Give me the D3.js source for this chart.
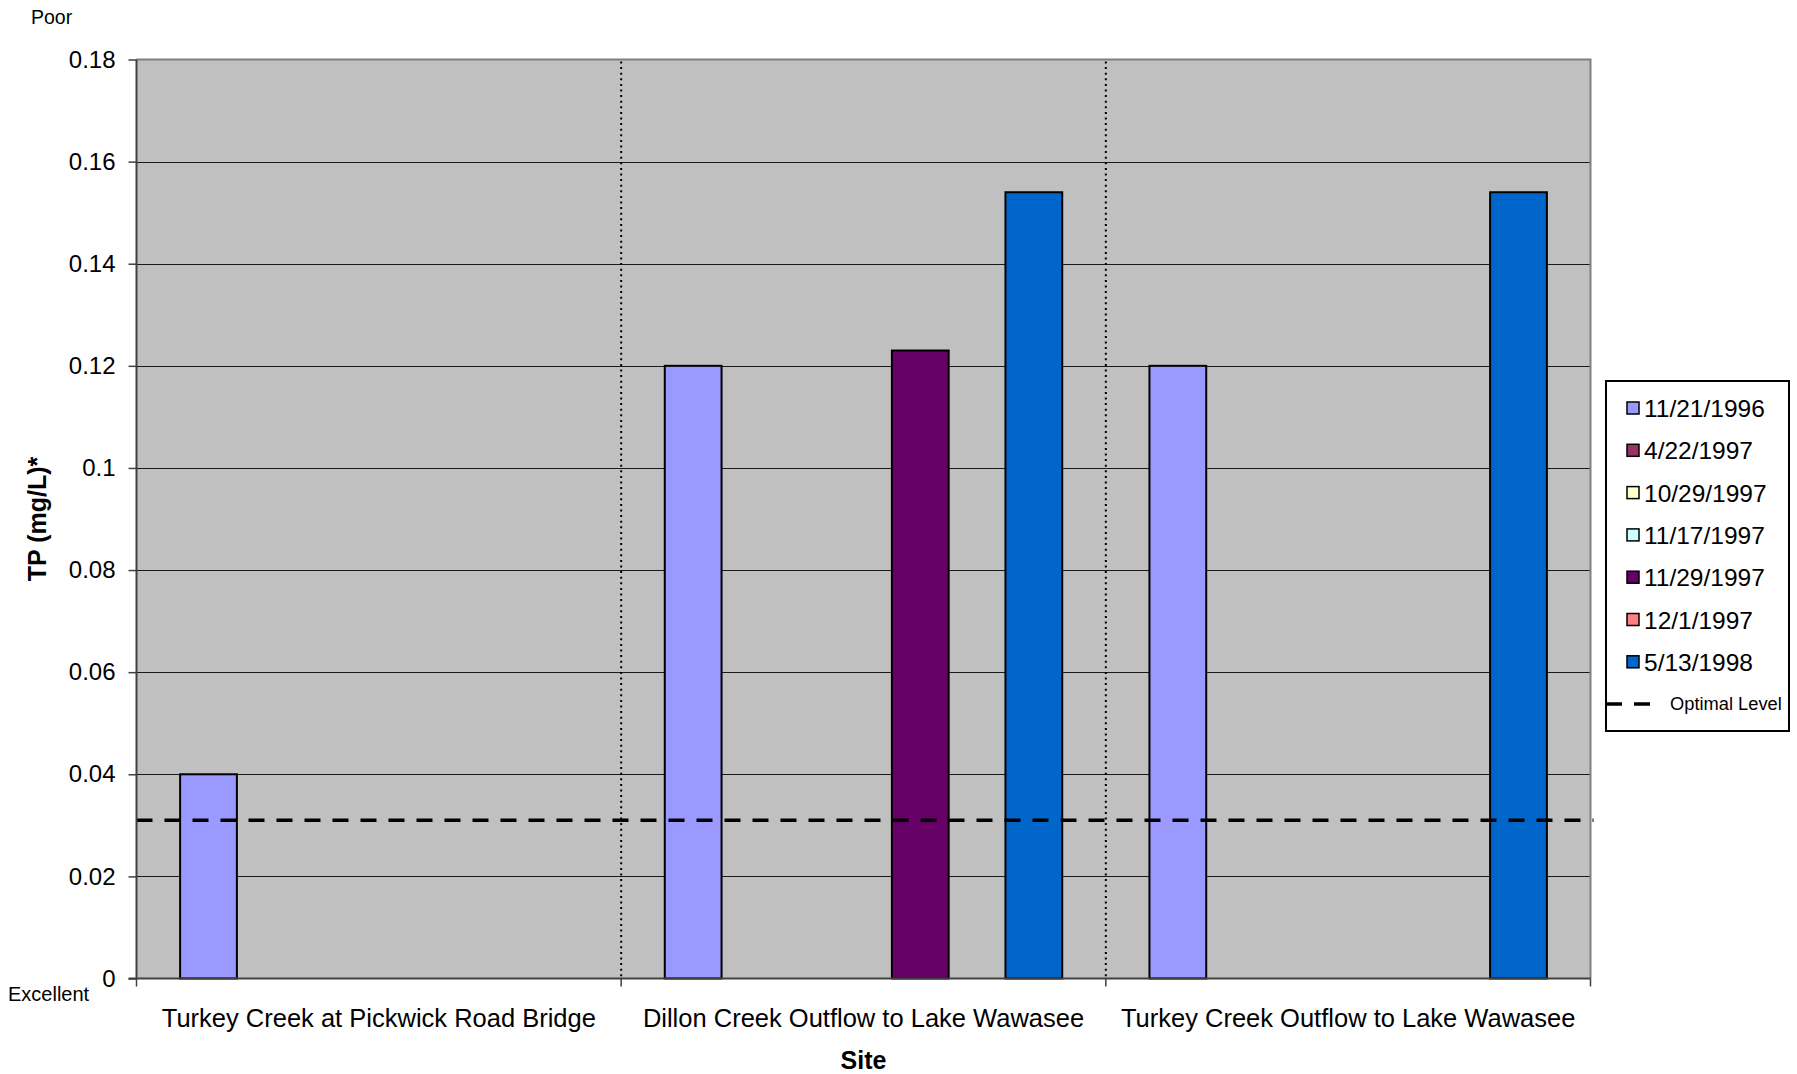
<!DOCTYPE html>
<html>
<head>
<meta charset="utf-8">
<script src="https://cdn.jsdelivr.net/npm/d3@7"></script>
<style>
  html, body { margin: 0; padding: 0; background: #fff; }
  svg { display: block; font-family: "Liberation Sans", Arial, sans-serif; }
</style>
</head>
<body>
<svg id="chart" width="1797" height="1074"></svg>
<script>
// Sampling sites along the x axis
const sites = [
  "Turkey Creek at Pickwick Road Bridge",
  "Dillon Creek Outflow to Lake Wawasee",
  "Turkey Creek Outflow to Lake Wawasee"
];

// Sampling dates (one bar slot per date within each site)
const dates = ["11/21/1996", "4/22/1997", "10/29/1997", "11/17/1997", "11/29/1997", "12/1/1997", "5/13/1998"];
const dateColors = ["#9999FF", "#993366", "#FFFFCC", "#CCFFFF", "#660066", "#FF8080", "#0066CC"];

// Total phosphorus (mg/L) per date, listed by site; null = no sample
const tp_11_21_1996 = [0.04, 0.12, 0.12];
const tp_4_22_1997  = [null, null, null];
const tp_10_29_1997 = [null, null, null];
const tp_11_17_1997 = [null, null, null];
const tp_11_29_1997 = [null, 0.123, null];
const tp_12_1_1997  = [null, null, null];
const tp_5_13_1998  = [null, 0.154, 0.154];
const seriesValues = [tp_11_21_1996, tp_4_22_1997, tp_10_29_1997, tp_11_17_1997, tp_11_29_1997, tp_12_1_1997, tp_5_13_1998];

// Optimal TP level
const optimalLevel = 0.031;

// Y axis ticks
const yTicks = [0, 0.02, 0.04, 0.06, 0.08, 0.1, 0.12, 0.14, 0.16, 0.18];
const yTickLabels = ["0", "0.02", "0.04", "0.06", "0.08", "0.1", "0.12", "0.14", "0.16", "0.18"];

const svg = d3.select("#chart");
const plot = { left: 136.5, right: 1590.5, top: 59.5, bottom: 978.5 };

const x = d3.scaleBand().domain(sites).range([plot.left, plot.right]).paddingInner(0).paddingOuter(0);
const xs = d3.scaleBand().domain(dates).range([0, x.bandwidth()]).paddingInner(0).paddingOuter(0.768);
const y = d3.scaleLinear().domain([0, 0.18]).range([plot.bottom, plot.top]);

// Plot area background
svg.append("rect")
  .attr("x", plot.left).attr("y", plot.top)
  .attr("width", plot.right - plot.left).attr("height", plot.bottom - plot.top)
  .attr("fill", "#C0C0C0");

// Horizontal gridlines
svg.append("g").selectAll("line")
  .data(yTicks.filter(t => t > 0 && t < 0.18))
  .join("line")
  .attr("x1", plot.left).attr("x2", plot.right)
  .attr("y1", d => Math.round(y(d)) + 0.5).attr("y2", d => Math.round(y(d)) + 0.5)
  .attr("stroke", "#1a1a1a").attr("stroke-width", 1);

// Top and right border of the plot area
svg.append("path")
  .attr("d", `M${plot.left},${plot.top} H${plot.right} V${plot.bottom}`)
  .attr("fill", "none").attr("stroke", "#808080").attr("stroke-width", 2);

// Dotted dividers between sites
svg.append("g").selectAll("line")
  .data(sites.slice(1))
  .join("line")
  .attr("x1", d => x(d)).attr("x2", d => x(d))
  .attr("y1", plot.top + 2).attr("y2", plot.bottom)
  .attr("stroke", "#000").attr("stroke-width", 2)
  .attr("stroke-dasharray", "2,3.6");

// Bars
const barData = [];
seriesValues.forEach((vals, si) => {
  vals.forEach((v, ci) => {
    if (v !== null) barData.push({ site: sites[ci], date: dates[si], color: dateColors[si], value: v });
  });
});
svg.append("g").selectAll("rect")
  .data(barData)
  .join("rect")
  .attr("x", d => x(d.site) + xs(d.date))
  .attr("y", d => y(d.value))
  .attr("width", xs.bandwidth())
  .attr("height", d => y(0) - y(d.value))
  .attr("fill", d => d.color)
  .attr("stroke", "#000").attr("stroke-width", 2);

// Optimal level line
svg.append("line")
  .attr("x1", plot.left).attr("x2", plot.right + 3)
  .attr("y1", y(optimalLevel)).attr("y2", y(optimalLevel))
  .attr("stroke", "#000").attr("stroke-width", 3.5)
  .attr("stroke-dasharray", "16,12");

// Y axis
const yAxis = d3.axisLeft(y).tickValues(yTicks).tickSize(8).tickPadding(13)
  .tickFormat((d, i) => yTickLabels[i]);
const gy = svg.append("g").attr("transform", `translate(${plot.left},0)`).call(yAxis);
gy.select(".domain").attr("stroke", "#404040").attr("stroke-width", 2).attr("d", `M0,${plot.top}V${plot.bottom}`);
gy.selectAll(".tick line").attr("stroke", "#404040").attr("stroke-width", 1.5);
gy.selectAll(".tick text").attr("font-size", 24).attr("fill", "#000")
  .attr("font-family", "Liberation Sans, Arial, sans-serif");

// X axis baseline with ticks at site boundaries
const boundaries = sites.map(s => x(s)).concat([plot.right]);
svg.append("line")
  .attr("x1", plot.left - 8).attr("x2", plot.right)
  .attr("y1", plot.bottom).attr("y2", plot.bottom)
  .attr("stroke", "#404040").attr("stroke-width", 2);
svg.append("g").selectAll("line")
  .data(boundaries)
  .join("line")
  .attr("x1", d => d).attr("x2", d => d)
  .attr("y1", plot.bottom).attr("y2", plot.bottom + 8)
  .attr("stroke", "#404040").attr("stroke-width", 1.5);

// Site labels
svg.append("g").selectAll("text")
  .data(sites)
  .join("text")
  .attr("x", d => x(d) + x.bandwidth() / 2)
  .attr("y", 1027)
  .attr("text-anchor", "middle")
  .attr("font-size", 25.5)
  .attr("fill", "#000")
  .text(d => d);

// Axis titles
svg.append("text")
  .attr("x", (plot.left + plot.right) / 2).attr("y", 1069)
  .attr("text-anchor", "middle").attr("font-size", 25).attr("font-weight", "bold")
  .text("Site");

svg.append("text")
  .attr("transform", `translate(46,${(plot.top + plot.bottom) / 2}) rotate(-90)`)
  .attr("text-anchor", "middle").attr("font-size", 25).attr("font-weight", "bold")
  .text("TP (mg/L)*");

// Scale annotations
svg.append("text").attr("x", 31).attr("y", 24).attr("font-size", 19.5).text("Poor");
svg.append("text").attr("x", 8).attr("y", 1001).attr("font-size", 20).text("Excellent");

// Legend
const lg = svg.append("g").attr("transform", "translate(1606,381)");
lg.append("rect").attr("x", 0).attr("y", 0).attr("width", 183).attr("height", 350)
  .attr("fill", "#fff").attr("stroke", "#000").attr("stroke-width", 2);
const entries = lg.selectAll("g.entry")
  .data(dates)
  .join("g").attr("class", "entry")
  .attr("transform", (d, i) => `translate(0,${27 + i * 42.3})`);
entries.append("rect")
  .attr("x", 21).attr("y", -6).attr("width", 12).attr("height", 12)
  .attr("fill", (d, i) => dateColors[i]).attr("stroke", "#000").attr("stroke-width", 1.5);
entries.append("text")
  .attr("x", 38).attr("y", 9).attr("font-size", 24.5).text(d => d);
lg.append("line")
  .attr("x1", 0).attr("x2", 46).attr("y1", 323).attr("y2", 323)
  .attr("stroke", "#000").attr("stroke-width", 3.5).attr("stroke-dasharray", "16,12");
lg.append("text").attr("x", 64).attr("y", 329).attr("font-size", 18.3).text("Optimal Level");
</script>
</body>
</html>
